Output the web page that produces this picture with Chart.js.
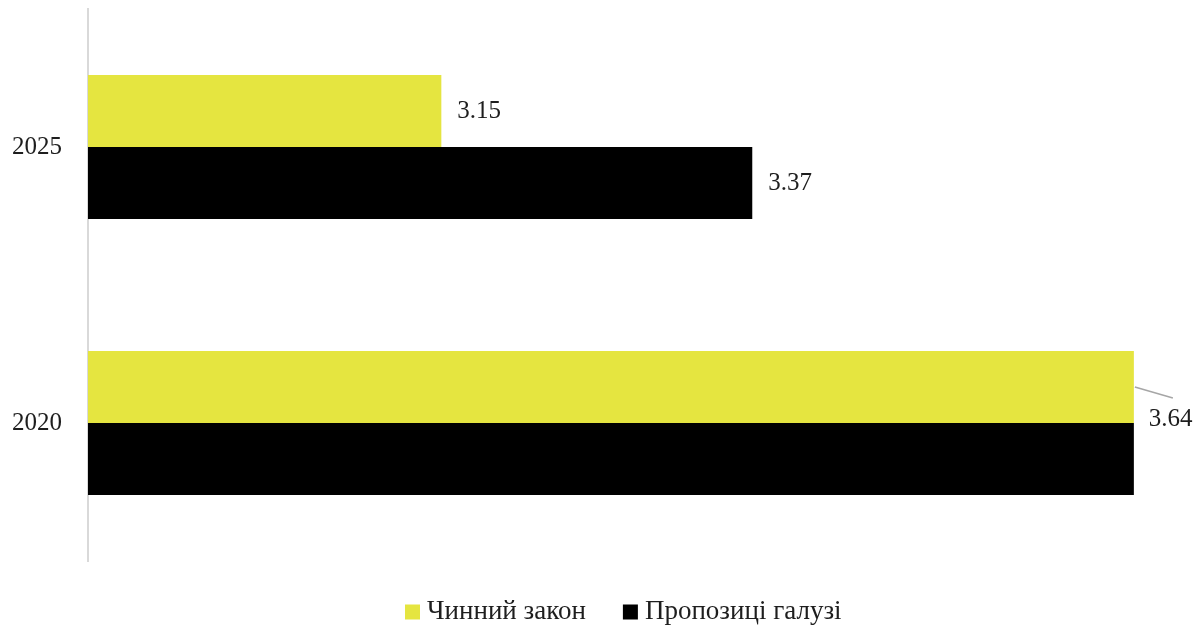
<!DOCTYPE html>
<html>
<head>
<meta charset="utf-8">
<script src="https://cdn.jsdelivr.net/npm/chart.js@4.4.1/dist/chart.umd.min.js"></script>
<style>
  html, body { margin: 0; padding: 0; background: #ffffff; }
  #wrap { width: 1201px; height: 628px; position: relative; }
</style>
</head>
<body>
<div id="wrap"><canvas id="chart" width="1201" height="628"></canvas></div>
<script>
// Categories (top to bottom) and series values
const categories = ['2025', '2020'];
const seriesNames = ['Чинний закон', 'Пропозиці галузі'];
const currentLaw = [3.15, 3.64];
const industryProposal = [3.37, 3.64];
// Which value labels are printed for each series
const showCurrentLaw = [true, true];
const showIndustry = [true, false];

const FONT = '"Liberation Serif", "DejaVu Serif", serif';
const TEXT = '#1e1e1e';
const YELLOW = '#e5e540';
const BLACK = '#000000';

// Value labels to the right of bar ends; the 2020 label of the first
// series sits lower with a short leader line.
const valueLabels = {
  id: 'valueLabels',
  afterDatasetsDraw(chart) {
    const ctx = chart.ctx;
    ctx.save();
    ctx.font = '25px ' + FONT;
    ctx.fillStyle = TEXT;
    ctx.textBaseline = 'middle';
    ctx.textAlign = 'left';
    chart.data.datasets.forEach((ds, di) => {
      const meta = chart.getDatasetMeta(di);
      meta.data.forEach((bar, i) => {
        if (!ds.showLabel[i]) return;
        const txt = ds.data[i].toFixed(2);
        if (di === 0 && i === 1) {
          ctx.strokeStyle = '#a6a6a6';
          ctx.lineWidth = 1.5;
          ctx.beginPath();
          ctx.moveTo(bar.x + 1, bar.y);
          ctx.lineTo(bar.x + 39, bar.y + 11);
          ctx.stroke();
          ctx.fillText(txt, bar.x + 15, bar.y + 32);
        } else {
          ctx.fillText(txt, bar.x + 16, bar.y);
        }
      });
    });
    ctx.restore();
  }
};

// Legend row under the plot: square swatch followed by the series name.
const bottomLegend = {
  id: 'bottomLegend',
  afterDraw(chart, args, opts) {
    const ctx = chart.ctx;
    ctx.save();
    ctx.font = opts.fontSize + 'px ' + FONT;
    ctx.textBaseline = 'middle';
    ctx.textAlign = 'left';
    let x = opts.left;
    const cy = opts.centerY;
    chart.data.datasets.forEach((ds) => {
      ctx.fillStyle = ds.backgroundColor;
      ctx.fillRect(x, cy - opts.box / 2, opts.box, opts.box);
      x += opts.box + opts.textGap;
      ctx.fillStyle = TEXT;
      ctx.fillText(ds.label, x, cy);
      x += ctx.measureText(ds.label).width + opts.itemGap;
    });
    ctx.restore();
  }
};

new Chart(document.getElementById('chart'), {
  type: 'bar',
  data: {
    labels: categories,
    datasets: [
      { label: seriesNames[0], data: currentLaw, showLabel: showCurrentLaw,
        backgroundColor: YELLOW, borderWidth: 0 },
      { label: seriesNames[1], data: industryProposal, showLabel: showIndustry,
        backgroundColor: BLACK, borderWidth: 0 }
    ]
  },
  options: {
    indexAxis: 'y',
    responsive: false,
    animation: false,
    devicePixelRatio: 1,
    layout: { padding: { top: 9, right: 53, left: 0, bottom: 67 } },
    datasets: { bar: { categoryPercentage: 0.522, barPercentage: 1.0 } },
    scales: {
      x: { display: false, min: 2.9, max: 3.65 },
      y: {
        grid: { display: false, drawTicks: false },
        border: { display: true, color: '#d9d9d9', width: 2 },
        ticks: { color: TEXT, padding: 26, font: { family: FONT, size: 25 } },
        afterFit(scale) {
          scale.width = 88;
          scale.paddingTop = 0;
          scale.paddingBottom = 0;
        }
      }
    },
    plugins: {
      tooltip: { enabled: false },
      legend: { display: false },
      bottomLegend: { left: 405, centerY: 612, box: 15, textGap: 7, itemGap: 37, fontSize: 27 }
    }
  },
  plugins: [valueLabels, bottomLegend]
});
</script>
</body>
</html>
